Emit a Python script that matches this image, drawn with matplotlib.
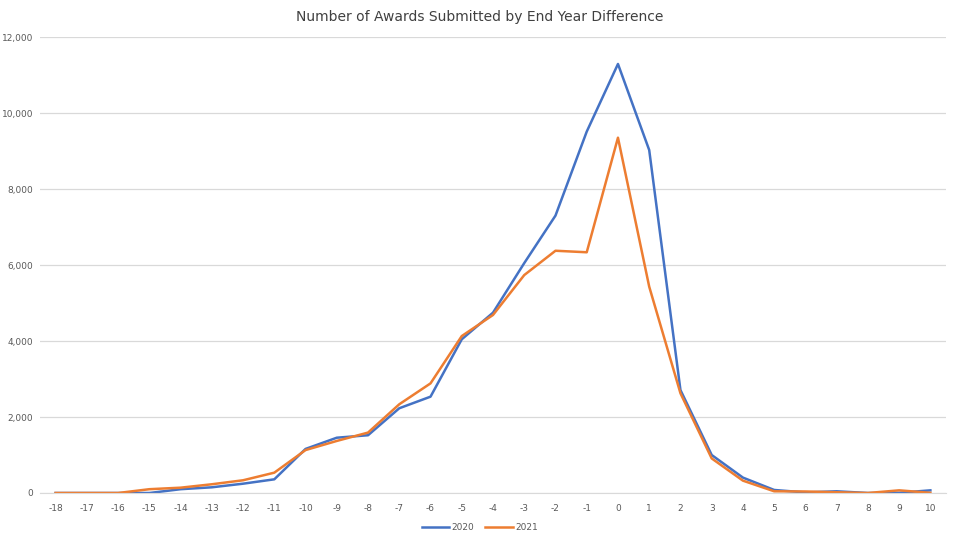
import matplotlib.pyplot as plt
import numpy as np
from matplotlib.ticker import FuncFormatter

# end year difference categories
years = list(range(-18, 11))

awards_2020 = [0, 0, 0, 0, 100, 150, 245, 360, 1160, 1455, 1520, 2230, 2535, 4045, 4745,
               6050, 7300, 9510, 11290, 9025, 2710, 1000, 405, 80, 15, 45, 0, 5, 70]
awards_2021 = [0, 0, 0, 100, 140, 230, 335, 535, 1130, 1370, 1590, 2335, 2885, 4130, 4685,
               5735, 6375, 6335, 9350, 5430, 2625, 910, 325, 45, 40, 20, 0, 70, 5]

x = np.arange(len(years))

fig = plt.figure(figsize=(9.6, 5.4), dpi=100)
ax = fig.add_axes([40/960, 1 - 493/540, 906/960, 456/540])

ax.plot(x, awards_2020, color='#4472C4', lw=1.8, label='2020', solid_joinstyle='round')
ax.plot(x, awards_2021, color='#ED7D31', lw=1.8, label='2021', solid_joinstyle='round')

ax.set_xlim(-0.5, len(years) - 0.5)
ax.set_ylim(0, 12000)
ax.set_yticks(range(0, 12001, 2000))
ax.yaxis.set_major_formatter(FuncFormatter(lambda v, p: f'{int(v):,}'))
ax.set_xticks(x)
ax.set_xticklabels([str(y) for y in years])

ax.grid(axis='y', color='#D9D9D9', lw=0.9)
ax.set_axisbelow(True)
for s in ['top', 'right', 'left']:
    ax.spines[s].set_visible(False)
ax.spines['bottom'].set_color('#D9D9D9')
ax.tick_params(length=0, labelsize=6.5, labelcolor='#595959')
ax.tick_params(axis='x', pad=8)
ax.tick_params(axis='y', pad=5)

fig.suptitle('Number of Awards Submitted by End Year Difference', y=0.982,
             fontsize=10, color='#404040')

fig.legend(loc='lower center', ncol=2, frameon=False, fontsize=6.5,
           labelcolor='#595959', bbox_to_anchor=(0.5, 0.0), handlelength=3.0,
           columnspacing=1.2, handletextpad=0.3)

fig.savefig('out.png', dpi=100)
